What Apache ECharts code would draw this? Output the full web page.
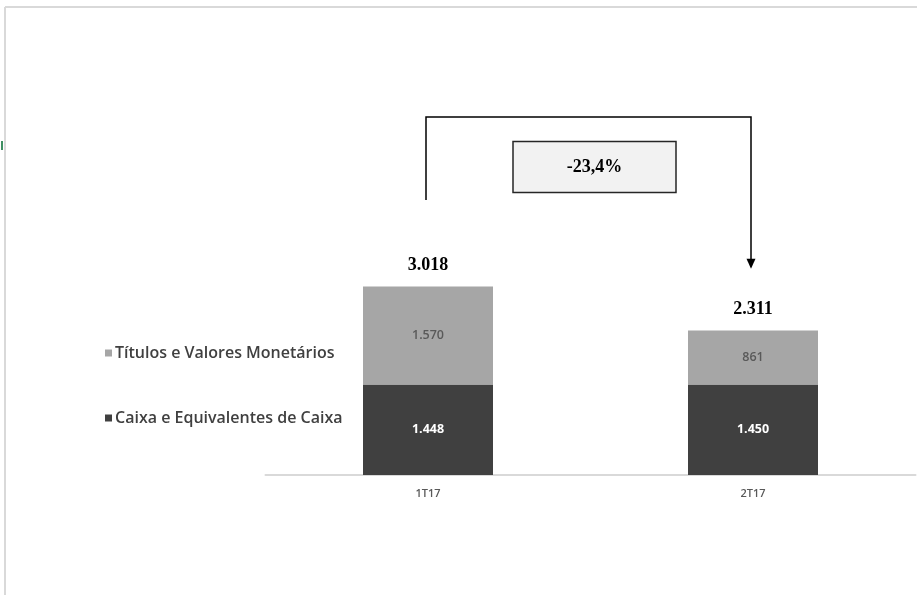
<!DOCTYPE html>
<html>
<head>
<meta charset="utf-8">
<script src="https://cdn.jsdelivr.net/npm/echarts@6/dist/echarts.min.js"></script>
<style>
html,body{margin:0;padding:0;background:#fff;}
#c{width:917px;height:595px;}
</style>
</head>
<body>
<div id="c"></div>
<script>
const categories = ['1T17', '2T17'];
const caixa = [1448, 1450];
const titulos = [1570, 861];
const totals = [3018, 2311];
const seriesNames = ['Caixa e Equivalentes de Caixa', 'Títulos e Valores Monetários'];
const changeLabel = '-23,4%';

const chart = echarts.init(document.getElementById('c'), null, {renderer: 'canvas'});
const fmt = v => v.toLocaleString('de-DE');

chart.setOption({
  animation: false,
  backgroundColor: '#fff',
  grid: {left: 265.5, right: 1.5, top: 100, bottom: 120},
  legend: {
    orient: 'vertical',
    left: 100, top: 338,
    itemGap: 45,
    itemWidth: 7, itemHeight: 7,
    icon: 'rect',
    data: [seriesNames[1], seriesNames[0]],
    textStyle: {fontFamily: 'Open Sans', fontWeight: 600, fontSize: 16, lineHeight: 20, color: '#404040', padding: [0,0,0,-2]}
  },
  xAxis: {
    type: 'category', data: categories,
    axisLine: {lineStyle: {color: '#d9d9d9', width: 2}},
    axisTick: {show: false},
    axisLabel: {color: '#595959', fontFamily: 'Open Sans', fontWeight: 600, fontSize: 11, margin: 13}
  },
  yAxis: {type: 'value', min: 0, max: 6000, show: false, splitLine: {show: false}},
  series: [
    {
      name: seriesNames[0], type: 'bar', stack: 't', data: caixa, barWidth: '40%',
      itemStyle: {color: '#404040'},
      label: {show: true, position: 'inside', color: '#fff', fontFamily: 'Open Sans', fontWeight: 'bold', fontSize: 12.5, formatter: p => fmt(p.value)}
    },
    {
      name: seriesNames[1], type: 'bar', stack: 't', data: titulos, barWidth: '40%',
      itemStyle: {color: '#a6a6a6'},
      label: {show: true, position: 'inside', color: '#595959', fontFamily: 'Open Sans', fontWeight: 600, fontSize: 12.5, formatter: p => fmt(p.value)}
    },
    {
      name: 'total', type: 'bar', stack: 't', data: totals.map(() => 0), barWidth: '40%',
      itemStyle: {color: 'transparent'},
      label: {show: true, position: 'top', distance: 12, color: '#000', fontFamily: 'Liberation Serif', fontWeight: 'bold', fontSize: 18,
        formatter: p => fmt(totals[p.dataIndex])}
    }
  ]
});

// annotation built from data coordinates
const bracketTop = 5730, leftStart = 4400, arrowTip = 3300, boxCenter = 4928;
const x0 = chart.convertToPixel({xAxisIndex: 0}, categories[0]) - 2;
const x1 = chart.convertToPixel({xAxisIndex: 0}, categories[1]) - 2;
const yTop = chart.convertToPixel({yAxisIndex: 0}, bracketTop);
const yL = chart.convertToPixel({yAxisIndex: 0}, leftStart);
const yA = chart.convertToPixel({yAxisIndex: 0}, arrowTip);
const yB = chart.convertToPixel({yAxisIndex: 0}, boxCenter);
const bx = (x0 + x1) / 2 + 6;

chart.setOption({
  graphic: [
    {type: 'line', shape: {x1: 5, y1: 7, x2: 917, y2: 7}, style: {stroke: '#d9d9d9', lineWidth: 2}},
    {type: 'line', shape: {x1: 5, y1: 7, x2: 5, y2: 595}, style: {stroke: '#d9d9d9', lineWidth: 2}},
    {type: 'rect', shape: {x: 1, y: 141, width: 2, height: 9}, style: {fill: '#3f8f62'}},
    {type: 'polyline', shape: {points: [[x0, yL], [x0, yTop], [x1, yTop], [x1, yA - 9]]}, style: {stroke: '#000', lineWidth: 1.5, fill: null}},
    {type: 'polygon', shape: {points: [[x1 - 4.5, yA - 10], [x1 + 4.5, yA - 10], [x1, yA]]}, style: {fill: '#000'}},
    {type: 'rect', shape: {x: bx - 81.5, y: yB - 25.5, width: 163, height: 51}, style: {fill: '#f2f2f2', stroke: '#262626', lineWidth: 1.5}},
    {type: 'text', x: bx, y: yB, style: {text: changeLabel, align: 'center', verticalAlign: 'middle', font: 'bold 18px "Liberation Serif"', fill: '#000'}}
  ]
});
</script>
</body>
</html>
